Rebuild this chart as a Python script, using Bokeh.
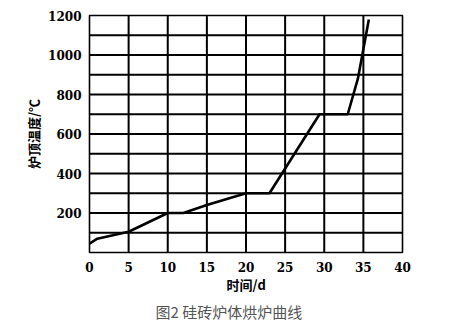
from bokeh.plotting import figure
from bokeh.models import Range1d, FixedTicker, Title
from bokeh.embed import file_html
from bokeh.resources import INLINE

days = [0, 1, 5, 10, 12, 15, 20, 23, 29.4, 33, 34.3, 35.7]
temps = [45, 70, 105, 200, 200, 240, 300, 300, 700, 700, 880, 1180]
x_ticks = [0, 5, 10, 15, 20, 25, 30, 35, 40]
y_ticks = [200, 400, 600, 800, 1000, 1200]
y_grid = [100, 200, 300, 400, 500, 600, 700, 800, 900, 1000, 1100]

p = figure(width=474, height=334, output_backend="svg", toolbar_location=None,
           x_range=Range1d(0, 40), y_range=Range1d(0, 1200),
           min_border_left=89, min_border_right=72, min_border_top=15, min_border_bottom=82)
p.outline_line_color = "black"
p.outline_line_width = 1.6
p.xgrid.visible = False
p.ygrid.visible = False

p.xaxis.ticker = FixedTicker(ticks=x_ticks)
p.yaxis.ticker = FixedTicker(ticks=y_ticks)

for ax in (p.xaxis, p.yaxis):
    ax.axis_line_color = None
    ax.major_tick_line_color = None
    ax.minor_tick_line_color = None
    ax.major_label_text_font = "DejaVu Serif"
    ax.major_label_text_font_style = "bold"
    ax.major_label_text_font_size = "12px"
    ax.major_label_text_color = "black"
    ax.axis_label_text_font = "Noto Sans CJK SC"
    ax.axis_label_text_font_style = "bold"
    ax.axis_label_text_font_size = "13px"
    ax.axis_label_text_color = "black"

p.xaxis.major_label_standoff = 3
p.yaxis.major_label_standoff = 2
p.xaxis.axis_label = "时间/d"
p.xaxis.axis_label_standoff = 0
p.yaxis.axis_label = "炉顶温度/℃"
p.yaxis.axis_label_standoff = 2

x_lo, x_hi = x_ticks[0], x_ticks[-1]
y_lo, y_hi = 0, y_ticks[-1]
for v in x_ticks[1:-1]:
    p.line([v, v], [y_lo, y_hi], line_color="black", line_width=2)
for v in y_grid:
    p.line([x_lo, x_hi], [v, v], line_color="black", line_width=2)

p.line(days, temps, line_color="black", line_width=2.6)

cap = Title(text="图2 硅砖炉体烘炉曲线", align="left", offset=66,
            text_font="Noto Sans CJK SC", text_font_style="normal",
            text_font_size="15px", text_color="#555555", standoff=4)
p.add_layout(cap, "below")

open("out.html", "w").write(file_html(p, INLINE))
